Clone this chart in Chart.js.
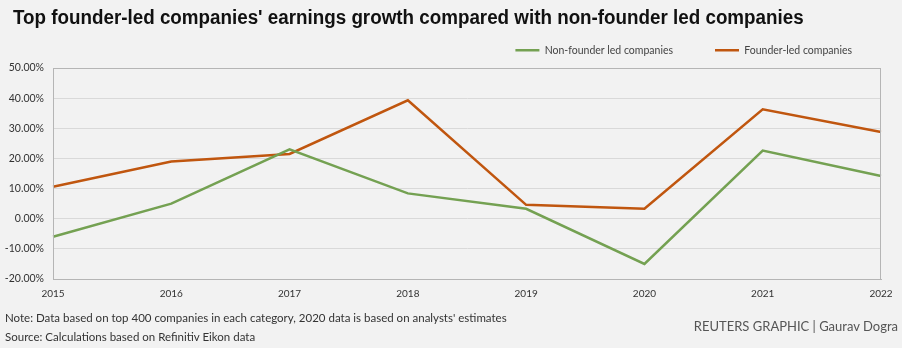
<!DOCTYPE html>
<html>
<head>
<meta charset="utf-8">
<script src="https://cdn.jsdelivr.net/npm/chart.js@4"></script>
<style>
  html, body { margin: 0; padding: 0; background: #f2f2f2; }
  #wrap { position: relative; width: 902px; height: 348px; overflow: hidden; background: #f2f2f2; }
  #chart { position: absolute; left: 0; top: 0; }
  #title { position: absolute; left: 13px; top: 6px; font-family: "Liberation Sans", sans-serif; font-weight: 700; font-size: 20px; color: #111; white-space: nowrap; transform: scaleX(0.94); transform-origin: 0 0; }
  .note { position: absolute; left: 5px; font-family: Lato, sans-serif; font-size: 11.5px; color: #333; white-space: nowrap; }
  #credit { position: absolute; right: 4px; top: 318px; font-family: Lato, sans-serif; font-size: 13px; color: #555; white-space: nowrap; }
</style>
</head>
<body>
<div id="wrap">
  <canvas id="chart" width="902" height="348"></canvas>
  <div id="title">Top founder-led companies' earnings growth compared with non-founder led companies</div>
  <div class="note" style="top:311px">Note: Data based on top 400 companies in each category, 2020 data is based on analysts' estimates</div>
  <div class="note" style="top:330px">Source: Calculations based on Refinitiv Eikon data</div>
  <div id="credit">REUTERS GRAPHIC | Gaurav Dogra</div>
</div>
<script>
const years = ['2015', '2016', '2017', '2018', '2019', '2020', '2021', '2022'];
const nonFounder = [-6.0, 5.0, 23.0, 8.4, 3.3, -15.0, 22.6, 14.2];
const founder = [10.6, 19.0, 21.5, 39.3, 4.6, 3.3, 36.3, 28.8];
const yTicks = [-20, -10, 0, 10, 20, 30, 40, 50];

const LEGEND_PAD = 42;

const boxPlugin = {
  id: 'plotBox',
  beforeLayout(chart) {
    const lg = chart.legend;
    if (lg && !lg._patched) {
      const orig = lg.fit;
      lg.fit = function () { orig.call(this); this.height = 65; };
      lg._patched = true;
    }
  },
  afterLayout(chart) {
    if (chart.legend) { chart.legend.right = 894; }
  },
  afterDatasetsDraw(chart) {
    const a = chart.chartArea, ctx = chart.ctx;
    ctx.save();
    ctx.strokeStyle = '#b5b5b5';
    ctx.lineWidth = 1;
    ctx.strokeRect(a.left + 0.5, a.top + 0.5, a.right - a.left - 1, a.bottom - a.top);
    ctx.restore();
  }
};

new Chart(document.getElementById('chart'), {
  type: 'line',
  data: {
    labels: years,
    datasets: [
      { label: 'Non-founder led companies', data: nonFounder, borderColor: '#74a152', backgroundColor: '#74a152', borderWidth: 2.5, pointRadius: 0, tension: 0 },
      { label: 'Founder-led companies', data: founder, borderColor: '#c0560f', backgroundColor: '#c0560f', borderWidth: 2.5, pointRadius: 0, tension: 0 }
    ]
  },
  options: {
    responsive: false,
    animation: false,
    layout: { padding: { left: 0, right: 21, top: 3, bottom: 47 } },
    plugins: {
      legend: {
        display: true,
        position: 'top',
        align: 'end',
        labels: {
          usePointStyle: true,
          pointStyle: 'line',
          pointStyleWidth: 24,
          boxHeight: 10,
          padding: LEGEND_PAD,
          color: '#444',
          font: { family: 'Lato', size: 10.5 }
        }
      },
      tooltip: { enabled: false }
    },
    scales: {
      x: {
        type: 'category',
        offset: false,
        grid: { display: false, drawTicks: false },
        border: { display: true, color: '#b5b5b5' },
        ticks: { color: '#333', font: { family: 'Lato', size: 10 }, padding: 9, maxRotation: 0 },
        afterFit(s) { s.height = 22; }
      },
      y: {
        min: -20, max: 50,
        afterBuildTicks(s) { s.ticks = yTicks.map(v => ({ value: v })); },
        grid: { color: '#d9d9d9', drawTicks: false },
        border: { display: true, color: '#b5b5b5' },
        ticks: { color: '#333', font: { family: 'Lato', size: 10.5 }, padding: 9, callback: v => v.toFixed(2) + '%' },
        afterFit(s) { s.width = 53; }
      }
    }
  },
  plugins: [boxPlugin]
});
</script>
</body>
</html>
